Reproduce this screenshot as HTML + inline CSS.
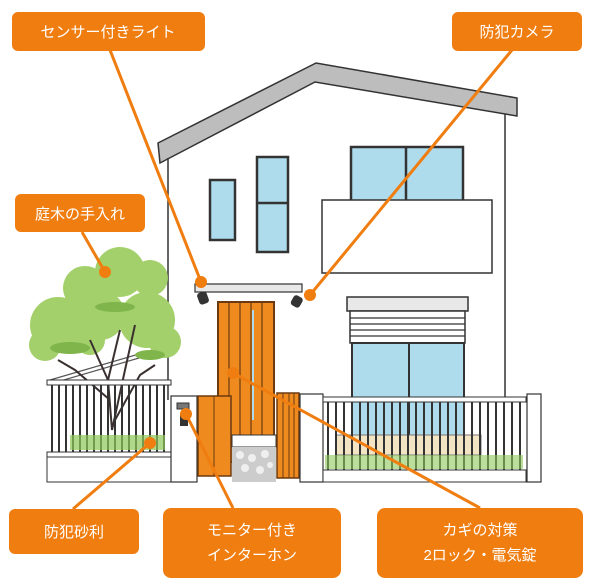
<!DOCTYPE html>
<html><head><meta charset="utf-8"><style>
html,body{margin:0;padding:0;background:#fff;}
svg{display:block;}
text{font-family:"Liberation Sans","Noto Sans CJK JP",sans-serif;fill:#fff;font-size:15px;}
</style></head><body>
<svg width="600" height="583" viewBox="0 0 600 583" xmlns="http://www.w3.org/2000/svg">
<!-- house wall -->
<polygon points="168,158 315,82 505,114 505,400 168,400" fill="#fff"/>
<!-- roof -->
<polygon points="158,143 316,63 517,98 517,116 315,82 160,163" fill="#bdbdbd" stroke="#333" stroke-width="1.5"/>
<line x1="168" y1="158" x2="168" y2="400" stroke="#333" stroke-width="1.5"/>
<line x1="505" y1="114" x2="505" y2="400" stroke="#333" stroke-width="1.5"/>
<!-- windows -->
<rect x="210" y="180" width="25" height="60" fill="#aedcec" stroke="#333" stroke-width="2.5"/>
<rect x="257" y="157" width="31" height="95" fill="#aedcec" stroke="#333" stroke-width="2.5"/>
<line x1="257" y1="203" x2="288" y2="203" stroke="#333" stroke-width="2.5"/>
<rect x="351" y="147" width="112" height="55" fill="#aedcec" stroke="#333" stroke-width="2.5"/>
<line x1="406" y1="147" x2="406" y2="202" stroke="#333" stroke-width="2.5"/>
<rect x="322" y="200" width="170" height="73" fill="#fff" stroke="#333" stroke-width="1.5"/>
<!-- canopy -->
<rect x="195" y="284" width="107" height="8" fill="#e8e8e8" stroke="#333" stroke-width="1.2"/>
<!-- door -->
<rect x="218" y="302" width="56" height="160" fill="#ee8a1e" stroke="#6b3a10" stroke-width="2"/>
<g stroke="#6b3a10" stroke-width="1.2">
<line x1="229" y1="302" x2="229" y2="436"/><line x1="240" y1="302" x2="240" y2="436"/><line x1="251" y1="302" x2="251" y2="436"/><line x1="262" y1="302" x2="262" y2="436"/></g>
<line x1="253" y1="310" x2="253" y2="420" stroke="#aedcec" stroke-width="2"/>
<rect x="232" y="435" width="44" height="12" fill="#fff" stroke="#333"/>
<!-- shutter window -->
<rect x="347" y="297" width="121" height="14" fill="#e8e8e8" stroke="#333" stroke-width="1.5"/>
<rect x="350" y="311" width="115" height="32" fill="#fff" stroke="#333" stroke-width="1.5"/>
<g stroke="#333" stroke-width="1.2"><line x1="350" y1="318" x2="465" y2="318"/><line x1="350" y1="324" x2="465" y2="324"/><line x1="350" y1="330" x2="465" y2="330"/><line x1="350" y1="336" x2="465" y2="336"/></g>
<rect x="352" y="343" width="112" height="97" fill="#aedcec" stroke="#333" stroke-width="2"/>
<line x1="409" y1="343" x2="409" y2="440" stroke="#333" stroke-width="2"/>
<rect x="336" y="435" width="145" height="20" fill="#f3e4c4" stroke="#777"/>
<!-- sloped fence behind tree -->
<g stroke="#555" stroke-width="1.2"><line x1="50" y1="380" x2="170" y2="345"/><line x1="50" y1="384" x2="170" y2="349"/></g>
<!-- tree -->
<g fill="#a3d06a">
<circle cx="120" cy="272" r="25"/><circle cx="150" cy="278" r="18"/><circle cx="85" cy="288" r="22"/>
<circle cx="58" cy="325" r="28"/><circle cx="100" cy="315" r="25"/><circle cx="147" cy="320" r="28"/>
<circle cx="165" cy="342" r="16"/><circle cx="45" cy="345" r="16"/><circle cx="90" cy="340" r="15"/>
</g>
<g fill="#7fb54a"><ellipse cx="70" cy="348" rx="20" ry="6"/><ellipse cx="115" cy="307" rx="20" ry="5"/><ellipse cx="150" cy="355" rx="15" ry="5"/></g>
<g stroke="#3a3030" stroke-width="2" fill="none">
<path d="M112 430 L108 380 L90 340"/><path d="M108 380 L120 330"/><path d="M112 430 L125 370 L135 325"/><path d="M110 400 L75 370 L58 360"/><path d="M115 420 L140 375 L155 365"/></g>
<!-- left fence -->
<rect x="47" y="380" width="124" height="5" fill="#fff" stroke="#333"/>
<g stroke="#333" stroke-width="2">
<line x1="52" y1="385" x2="52" y2="452"/><line x1="59" y1="385" x2="59" y2="452"/><line x1="66" y1="385" x2="66" y2="452"/><line x1="73" y1="385" x2="73" y2="452"/><line x1="80" y1="385" x2="80" y2="452"/><line x1="87" y1="385" x2="87" y2="452"/><line x1="94" y1="385" x2="94" y2="452"/><line x1="101" y1="385" x2="101" y2="452"/><line x1="108" y1="385" x2="108" y2="452"/><line x1="115" y1="385" x2="115" y2="452"/><line x1="122" y1="385" x2="122" y2="452"/><line x1="129" y1="385" x2="129" y2="452"/><line x1="136" y1="385" x2="136" y2="452"/><line x1="143" y1="385" x2="143" y2="452"/><line x1="150" y1="385" x2="150" y2="452"/><line x1="157" y1="385" x2="157" y2="452"/><line x1="164" y1="385" x2="164" y2="452"/></g>
<rect x="70" y="435" width="95" height="15" fill="#8fc85a" opacity="0.7"/>
<rect x="47" y="452" width="124" height="5" fill="#fff" stroke="#333"/>
<rect x="47" y="457" width="124" height="25" fill="#fff" stroke="#333"/>
<!-- post -->
<rect x="171" y="396" width="26" height="86" fill="#fff" stroke="#333" stroke-width="1.2"/>
<rect x="177" y="403" width="12" height="6" fill="#777" stroke="#333"/>
<rect x="180" y="413" width="8" height="13" fill="#333"/>
<!-- gates -->
<rect x="198" y="396" width="33" height="80" fill="#ee8a1e" stroke="#6b3a10" stroke-width="1.5"/>
<line x1="214" y1="396" x2="214" y2="476" stroke="#6b3a10"/>
<rect x="232" y="447" width="44" height="35" fill="#ccc"/>
<g fill="#fff" opacity="0.7"><circle cx="240" cy="455" r="4"/><circle cx="252" cy="458" r="4"/><circle cx="265" cy="454" r="4"/><circle cx="245" cy="468" r="4"/><circle cx="260" cy="470" r="4"/><circle cx="270" cy="465" r="3"/></g>
<rect x="277" y="393" width="22" height="85" fill="#ee8a1e" stroke="#6b3a10" stroke-width="1.5"/>
<g stroke="#6b3a10"><line x1="283" y1="393" x2="283" y2="478"/><line x1="289" y1="393" x2="289" y2="478"/><line x1="294" y1="393" x2="294" y2="478"/></g>
<!-- right post/fence -->
<rect x="300" y="394" width="23" height="88" fill="#fff" stroke="#333" stroke-width="1.2"/>
<rect x="323" y="397" width="203" height="5" fill="#fff" stroke="#333"/>
<g stroke="#333" stroke-width="2">
<line x1="328" y1="402" x2="328" y2="470"/><line x1="336" y1="402" x2="336" y2="470"/><line x1="344" y1="402" x2="344" y2="470"/><line x1="352" y1="402" x2="352" y2="470"/><line x1="360" y1="402" x2="360" y2="470"/><line x1="368" y1="402" x2="368" y2="470"/><line x1="376" y1="402" x2="376" y2="470"/><line x1="384" y1="402" x2="384" y2="470"/><line x1="392" y1="402" x2="392" y2="470"/><line x1="400" y1="402" x2="400" y2="470"/><line x1="408" y1="402" x2="408" y2="470"/><line x1="416" y1="402" x2="416" y2="470"/><line x1="424" y1="402" x2="424" y2="470"/><line x1="432" y1="402" x2="432" y2="470"/><line x1="440" y1="402" x2="440" y2="470"/><line x1="448" y1="402" x2="448" y2="470"/><line x1="456" y1="402" x2="456" y2="470"/><line x1="464" y1="402" x2="464" y2="470"/><line x1="472" y1="402" x2="472" y2="470"/><line x1="480" y1="402" x2="480" y2="470"/><line x1="488" y1="402" x2="488" y2="470"/><line x1="496" y1="402" x2="496" y2="470"/><line x1="504" y1="402" x2="504" y2="470"/><line x1="512" y1="402" x2="512" y2="470"/><line x1="520" y1="402" x2="520" y2="470"/></g>
<rect x="325" y="455" width="198" height="14" fill="#8fc85a" opacity="0.6"/>
<rect x="323" y="470" width="203" height="12" fill="#fff" stroke="#333"/>
<rect x="527" y="394" width="14" height="88" fill="#fff" stroke="#333" stroke-width="1.2"/>
<!-- cameras -->
<g fill="#333"><rect x="198" y="292" width="10" height="12" rx="3" transform="rotate(-20 203 298)"/><rect x="292" y="296" width="10" height="11" rx="3" transform="rotate(30 297 301)"/></g>
<!-- connectors -->
<g stroke="#f07d10" stroke-width="3" fill="none">
<line x1="110" y1="50" x2="201" y2="282"/>
<line x1="512" y1="50" x2="310" y2="295"/>
<line x1="82" y1="232" x2="105" y2="272"/>
<line x1="73" y1="509" x2="150" y2="443"/>
<line x1="233" y1="508" x2="186" y2="414"/>
<line x1="480" y1="508" x2="233" y2="373"/>
</g>
<g fill="#f07d10">
<circle cx="201" cy="282" r="6"/><circle cx="310" cy="295" r="6"/><circle cx="105" cy="272" r="6"/>
<circle cx="150" cy="443" r="6"/><circle cx="186" cy="414" r="6"/><circle cx="233" cy="373" r="6"/>
</g>
<!-- labels -->
<g fill="#f07d10">
<rect x="12" y="12" width="193" height="39" rx="6"/>
<rect x="452" y="12" width="130" height="39" rx="6"/>
<rect x="15" y="194" width="130" height="38" rx="6"/>
<rect x="9" y="509" width="130" height="45" rx="6"/>
<rect x="163" y="508" width="178" height="70" rx="8"/>
<rect x="377" y="508" width="206" height="70" rx="8"/>
</g>
<text x="108" y="37" text-anchor="middle">センサー付きライト</text>
<text x="517" y="37" text-anchor="middle">防犯カメラ</text>
<text x="80" y="219" text-anchor="middle">庭木の手入れ</text>
<text x="74" y="537" text-anchor="middle">防犯砂利</text>
<text x="252" y="535" text-anchor="middle">モニター付き</text>
<text x="252" y="560" text-anchor="middle">インターホン</text>
<text x="480" y="535" text-anchor="middle">カギの対策</text>
<text x="480" y="560" text-anchor="middle">2ロック・電気錠</text>
</svg>
</body></html>
